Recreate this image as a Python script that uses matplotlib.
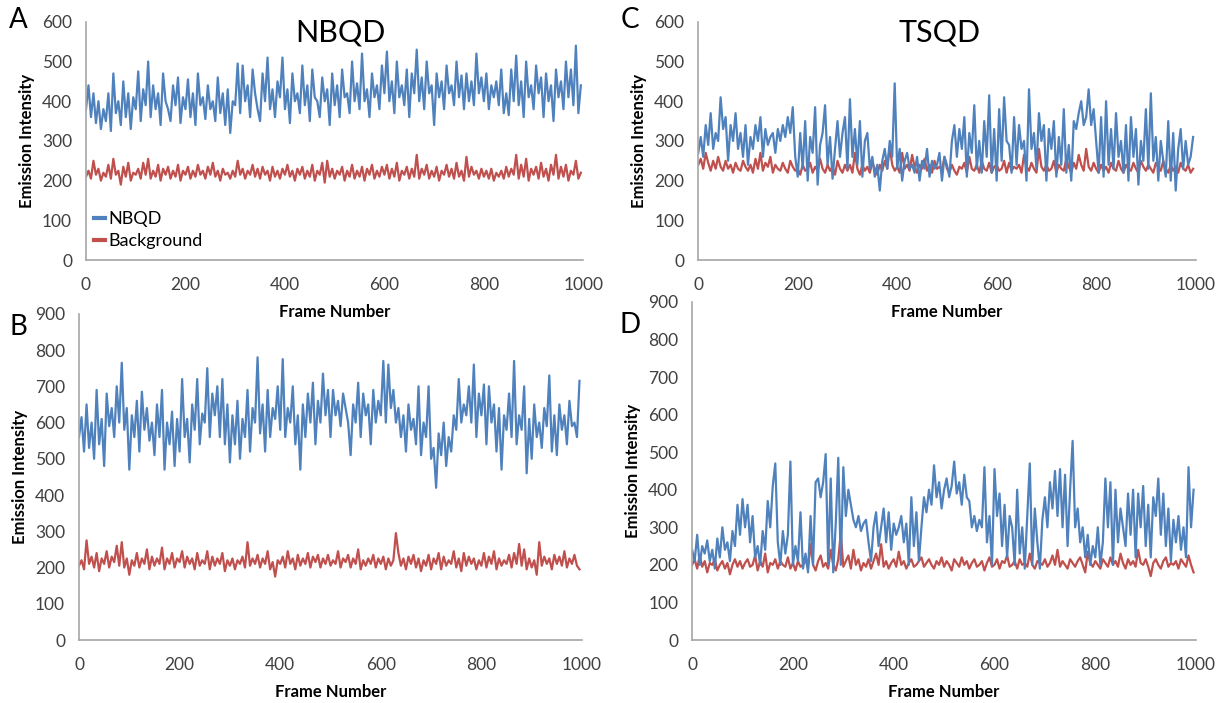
import numpy as np
import matplotlib
matplotlib.use('Agg')
import matplotlib.pyplot as plt

plt.rcParams['font.family'] = ['Lato', 'DejaVu Sans']

# frame numbers, every 5th frame
frames = list(range(0, 1000, 5))

# Panel A: NBQD, short exposure
nbqdA = [380, 440, 360, 420, 345, 400, 330, 380, 350, 420, 325, 470, 370, 400, 340, 450, 360, 420, 330, 410,
         380, 475, 350, 430, 390, 500, 360, 440, 380, 420, 340, 470, 400, 380, 350, 440, 390, 460, 345, 410,
         380, 455, 360, 420, 340, 470, 390, 410, 355, 440, 380, 400, 350, 460, 370, 420, 340, 430, 320, 400,
         390, 495, 370, 490, 400, 440, 360, 480, 420, 380, 350, 470, 400, 510, 380, 430, 360, 450, 410, 510,
         380, 430, 345, 470, 400, 420, 370, 490, 390, 440, 350, 480, 410, 400, 360, 460, 400, 430, 340, 470,
         390, 440, 360, 480, 410, 420, 370, 500, 400, 445, 380, 520, 400, 430, 360, 470, 410, 440, 380, 490,
         420, 525, 400, 450, 370, 500, 410, 440, 390, 480, 360, 470, 420, 530, 400, 460, 380, 500, 420, 440,
         340, 470, 410, 450, 380, 490, 420, 440, 390, 500, 410, 465, 380, 470, 400, 450, 390, 520, 420, 460,
         400, 470, 380, 440, 410, 450, 390, 480, 370, 420, 365, 480, 400, 515, 390, 450, 360, 500, 410, 440,
         380, 490, 420, 460, 360, 470, 400, 440, 350, 480, 410, 450, 380, 500, 410, 480, 390, 540, 370, 440]
bgA = [210, 225, 205, 250, 215, 230, 200, 220, 210, 240, 205, 255, 215, 225, 190, 235, 210, 245, 200, 220,
       215, 230, 205, 245, 215, 255, 205, 225, 210, 240, 200, 230, 215, 235, 205, 225, 210, 240, 200, 225,
       215, 235, 205, 225, 210, 240, 215, 225, 205, 235, 215, 245, 210, 225, 200, 230, 215, 220, 205, 225,
       210, 250, 215, 230, 205, 225, 215, 240, 210, 230, 205, 235, 215, 225, 200, 235, 210, 225, 205, 230,
       215, 240, 210, 225, 200, 230, 215, 235, 205, 225, 210, 240, 200, 225, 215, 245, 195, 250, 210, 230,
       205, 225, 215, 235, 200, 225, 210, 240, 205, 225, 210, 235, 200, 230, 215, 240, 205, 225, 210, 235,
       215, 240, 205, 230, 210, 245, 200, 225, 215, 235, 205, 230, 210, 265, 205, 230, 215, 240, 205, 225,
       210, 235, 200, 225, 215, 240, 210, 230, 205, 245, 210, 225, 200, 260, 210, 235, 215, 225, 205, 230,
       210, 225, 205, 230, 200, 220, 210, 225, 205, 235, 210, 230, 215, 265, 205, 240, 210, 255, 200, 230,
       215, 235, 205, 245, 210, 230, 200, 240, 215, 265, 205, 235, 210, 240, 200, 225, 215, 250, 205, 220]

# Panel B: NBQD, long exposure
nbqdB = [560, 615, 520, 650, 530, 600, 500, 690, 540, 610, 480, 680, 590, 640, 560, 700, 600, 765, 580, 640,
         470, 620, 560, 660, 520, 685, 580, 640, 550, 600, 510, 650, 560, 690, 470, 600, 540, 630, 480, 610,
         520, 720, 560, 610, 490, 650, 580, 720, 540, 625, 600, 750, 560, 680, 620, 700, 560, 720, 540, 650,
         490, 620, 540, 660, 500, 610, 560, 690, 520, 640, 600, 780, 570, 650, 520, 690, 560, 640, 610, 700,
         580, 775, 560, 640, 600, 700, 540, 620, 470, 650, 560, 680, 600, 710, 540, 660, 600, 735, 620, 690,
         560, 690, 620, 660, 590, 680, 640, 600, 510, 650, 600, 710, 560, 680, 620, 650, 540, 690, 600, 660,
         620, 770, 600, 760, 640, 690, 600, 640, 560, 620, 520, 650, 580, 610, 540, 700, 510, 600, 560, 700,
         500, 530, 420, 570, 510, 600, 480, 560, 520, 620, 580, 720, 600, 650, 620, 700, 600, 760, 560, 680,
         620, 705, 540, 700, 600, 650, 520, 640, 470, 620, 580, 680, 560, 770, 540, 620, 580, 700, 460, 610,
         500, 650, 560, 600, 530, 640, 590, 730, 520, 620, 510, 650, 580, 620, 540, 660, 590, 600, 560, 715]
bgB = [205, 220, 195, 275, 210, 230, 200, 240, 190, 225, 210, 245, 200, 230, 215, 260, 205, 270, 200, 225,
       180, 220, 205, 240, 200, 225, 210, 250, 195, 230, 205, 225, 210, 255, 195, 225, 210, 240, 200, 225,
       215, 245, 200, 230, 210, 225, 195, 240, 205, 220, 210, 245, 195, 230, 205, 225, 210, 240, 190, 220,
       205, 225, 195, 220, 210, 230, 200, 270, 205, 225, 210, 235, 200, 225, 210, 245, 195, 215, 175, 220,
       210, 230, 200, 245, 210, 225, 195, 235, 205, 225, 210, 240, 200, 230, 215, 235, 200, 225, 210, 235,
       205, 220, 210, 245, 200, 225, 215, 235, 200, 225, 210, 250, 195, 220, 205, 225, 210, 235, 200, 225,
       210, 230, 195, 225, 205, 220, 295, 240, 205, 225, 195, 230, 210, 235, 200, 225, 190, 220, 205, 235,
       195, 225, 210, 240, 195, 230, 205, 220, 210, 245, 200, 225, 190, 240, 205, 230, 210, 225, 195, 220,
       205, 240, 200, 230, 210, 245, 195, 225, 205, 220, 210, 235, 200, 240, 210, 265, 205, 250, 195, 225,
       200, 220, 180, 270, 205, 230, 210, 225, 195, 235, 210, 230, 205, 245, 200, 225, 210, 235, 205, 195]

# Panel C: TSQD, short exposure
tsqdC = [270, 310, 260, 340, 290, 370, 280, 320, 300, 410, 330, 360, 250, 340, 300, 370, 280, 320, 260, 340,
         240, 310, 280, 340, 300, 360, 260, 330, 290, 310, 320, 270, 330, 300, 340, 310, 360, 320, 385, 260,
         210, 320, 230, 350, 200, 310, 270, 385, 190, 290, 320, 390, 240, 310, 205, 280, 350, 260, 320, 360,
         230, 405, 260, 330, 240, 350, 210, 300, 320, 230, 260, 210, 240, 175, 250, 280, 230, 300, 260, 445,
         230, 280, 200, 250, 270, 230, 240, 220, 260, 200, 250, 230, 280, 210, 250, 230, 240, 270, 200, 260,
         240, 210, 300, 340, 260, 330, 280, 360, 210, 320, 270, 390, 230, 300, 220, 350, 260, 415, 220, 330,
         200, 380, 250, 410, 300, 290, 220, 360, 240, 340, 280, 300, 200, 430, 280, 320, 230, 370, 300, 340,
         200, 330, 280, 350, 210, 310, 240, 380, 220, 290, 200, 350, 330, 370, 400, 340, 360, 430, 340, 380,
         300, 220, 360, 210, 400, 240, 330, 230, 370, 260, 300, 220, 340, 200, 360, 260, 330, 190, 300, 250,
         380, 230, 420, 250, 310, 200, 300, 250, 210, 350, 200, 320, 175, 280, 330, 230, 300, 240, 260, 310]
bgC = [240, 255, 230, 270, 245, 225, 250, 230, 260, 235, 225, 250, 230, 240, 220, 245, 230, 225, 250, 235,
       225, 240, 220, 255, 230, 270, 225, 245, 235, 260, 220, 240, 230, 225, 245, 230, 220, 250, 235, 225,
       230, 215, 240, 225, 230, 245, 220, 235, 225, 255, 230, 220, 240, 225, 235, 215, 250, 230, 220, 240,
       225, 240, 220, 270, 230, 215, 240, 225, 235, 220, 245, 230, 215, 240, 225, 250, 230, 285, 240, 225,
       235, 220, 270, 230, 240, 225, 265, 235, 220, 240, 230, 255, 225, 240, 220, 250, 230, 235, 225, 260,
       230, 220, 240, 225, 215, 235, 230, 245, 220, 260, 230, 225, 240, 220, 250, 230, 225, 245, 220, 235,
       240, 225, 230, 250, 220, 245, 225, 235, 230, 240, 220, 265, 235, 225, 245, 230, 220, 280, 235, 225,
       240, 225, 230, 250, 220, 240, 230, 225, 255, 235, 220, 245, 230, 265, 240, 225, 280, 235, 225, 245,
       230, 220, 240, 225, 235, 220, 245, 230, 225, 250, 230, 220, 240, 230, 225, 245, 230, 220, 250, 235,
       225, 240, 230, 220, 245, 235, 225, 250, 230, 220, 240, 225, 235, 220, 245, 230, 225, 240, 220, 230]

# Panel D: TSQD, long exposure
tsqdD = [240, 210, 280, 200, 250, 230, 265, 210, 240, 190, 270, 220, 300, 240, 260, 210, 290, 250, 360, 280,
         375, 300, 360, 260, 330, 220, 250, 200, 290, 240, 370, 300, 410, 470, 260, 200, 290, 230, 280, 475,
         200, 250, 210, 340, 190, 230, 180, 330, 200, 420, 430, 380, 420, 495, 200, 430, 180, 310, 485, 200,
         460, 330, 400, 360, 320, 300, 330, 290, 310, 320, 260, 210, 300, 340, 250, 300, 350, 260, 340, 240,
         310, 280, 300, 330, 260, 310, 200, 380, 250, 340, 210, 300, 380, 340, 400, 360, 465, 380, 420, 350,
         400, 430, 380, 410, 475, 390, 420, 360, 440, 380, 370, 300, 330, 290, 320, 300, 460, 260, 330, 200,
         455, 330, 390, 250, 360, 220, 330, 300, 200, 400, 230, 300, 190, 330, 470, 200, 350, 260, 190, 320,
         380, 300, 420, 350, 450, 330, 455, 300, 440, 250, 400, 530, 300, 350, 260, 300, 220, 280, 200, 250,
         220, 300, 200, 260, 430, 300, 420, 200, 400, 260, 350, 300, 250, 390, 280, 400, 220, 390, 300, 410,
         250, 360, 220, 380, 330, 430, 280, 390, 250, 350, 210, 320, 260, 330, 240, 300, 220, 460, 300, 400]
bgD = [200, 215, 190, 225, 195, 210, 180, 205, 200, 215, 185, 200, 210, 190, 205, 175, 200, 215, 195, 210,
       190, 205, 215, 195, 200, 225, 185, 210, 195, 230, 180, 205, 200, 215, 190, 210, 200, 195, 220, 190,
       205, 185, 210, 195, 200, 215, 190, 255, 200, 185, 210, 225, 195, 205, 190, 240, 200, 185, 215, 285,
       195, 210, 225, 190, 240, 200, 215, 185, 205, 195, 215, 190, 210, 230, 200, 255, 195, 210, 190, 205,
       215, 195, 235, 200, 210, 190, 205, 215, 195, 200, 210, 220, 195, 205, 215, 200, 190, 210, 200, 220,
       195, 210, 200, 185, 215, 205, 195, 220, 200, 210, 190, 205, 215, 195, 200, 210, 185, 205, 220, 195,
       200, 215, 190, 210, 205, 225, 195, 200, 210, 190, 215, 200, 205, 195, 230, 200, 190, 210, 205, 200,
       215, 195, 205, 225, 200, 240, 195, 210, 200, 190, 215, 205, 195, 210, 220, 200, 180, 235, 205, 195,
       210, 200, 190, 215, 205, 195, 220, 200, 210, 195, 230, 205, 190, 215, 200, 210, 195, 240, 205, 200,
       215, 195, 170, 205, 215, 200, 190, 210, 220, 195, 205, 200, 210, 190, 215, 205, 195, 225, 200, 180]

BLUE = '#4F81BD'
RED = '#C0504D'
TICK_COLOR = '#404040'
SPINE_COLOR = '#A6A6A6'


def style_axes(ax, ymax, ystep):
    '''Excel-like look: only left/bottom grey spines, no tick marks'''
    ax.set_xlim(0, 1000)
    ax.set_ylim(0, ymax)
    ax.set_xticks(range(0, 1001, 200))
    ax.set_yticks(range(0, ymax + 1, ystep))
    for side in ['top', 'right']:
        ax.spines[side].set_visible(False)
    for side in ['left', 'bottom']:
        ax.spines[side].set_color(SPINE_COLOR)
        ax.spines[side].set_linewidth(1.2)
    ax.tick_params(length=0, labelsize=12.5, colors=TICK_COLOR)
    ax.tick_params(axis='x', pad=12)
    ax.tick_params(axis='y', pad=10)
    ax.set_xlabel('Frame Number', fontsize=12, fontweight='bold', labelpad=8)
    ax.set_ylabel('Emission Intensity', fontsize=12, fontweight='bold', labelpad=5)
    ax.patch.set_visible(False)  # lower panels must not hide the upper x labels
    ax.margins(0)


fig = plt.figure(figsize=(12.25, 7.03), dpi=100)

axA = fig.add_axes([0.0702, 0.630, 0.406, 0.339])
axC = fig.add_axes([0.570, 0.630, 0.406, 0.339])
axB = fig.add_axes([0.0645, 0.0896, 0.4106, 0.464])
axD = fig.add_axes([0.565, 0.0896, 0.4114, 0.481])

lw = 1.6
axA.plot(frames, nbqdA, color=BLUE, lw=lw, label='NBQD')
axA.plot(frames, bgA, color=RED, lw=lw, label='Background')
axB.plot(frames, nbqdB, color=BLUE, lw=lw)
axB.plot(frames, bgB, color=RED, lw=lw)
axC.plot(frames, bgC, color=RED, lw=lw)
axC.plot(frames, tsqdC, color=BLUE, lw=lw)
axD.plot(frames, bgD, color=RED, lw=lw)
axD.plot(frames, tsqdD, color=BLUE, lw=lw)

style_axes(axA, 600, 100)
style_axes(axC, 600, 100)
style_axes(axB, 900, 100)
style_axes(axD, 900, 100)

leg = axA.legend(loc='lower left', bbox_to_anchor=(-0.005, 0.0), frameon=False, fontsize=13,
                 handlelength=0.6, handletextpad=0.15, labelspacing=0.35, borderaxespad=0.2)
for h in leg.get_lines():
    h.set_linewidth(3)

# titles and panel letters
fig.text(340 / 1225, 1 - 32 / 703, 'NBQD', fontsize=22, ha='center', va='center')
fig.text(940 / 1225, 1 - 32 / 703, 'TSQD', fontsize=22, ha='center', va='center')
fig.text(18 / 1225, 1 - 20 / 703, 'A', fontsize=20, ha='center', va='center')
fig.text(18 / 1225, 1 - 327 / 703, 'B', fontsize=20, ha='center', va='center')
fig.text(630 / 1225, 1 - 20 / 703, 'C', fontsize=20, ha='center', va='center')
fig.text(630 / 1225, 1 - 325 / 703, 'D', fontsize=20, ha='center', va='center')

fig.savefig('out.png', dpi=100)
